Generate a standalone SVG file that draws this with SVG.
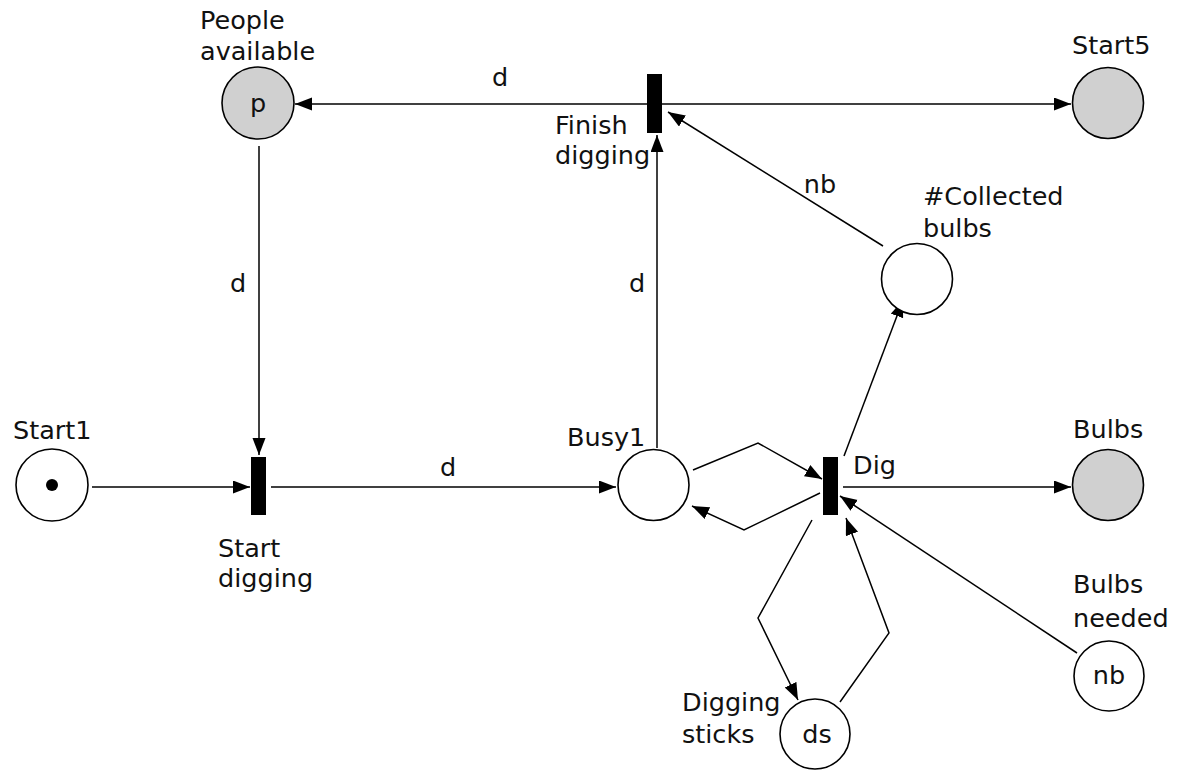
<svg xmlns="http://www.w3.org/2000/svg" width="1184" height="772" viewBox="0 0 1184 772">
<defs>
<marker id="arr" markerUnits="userSpaceOnUse" markerWidth="18" markerHeight="14" refX="17" refY="6.5" orient="auto">
<path d="M0,0 L17,6.5 L0,13 Z" fill="#000"/>
</marker>
<style>
.pl{fill:#fff;stroke:#000;stroke-width:1.6}
.pg{fill:#d0d0d0;stroke:#000;stroke-width:1.6}
.tr{fill:#000}
.t{font-family:"DejaVu Sans",Verdana,sans-serif;font-size:25.5px;fill:#111}
.c{stroke:#000;stroke-width:1.5;fill:none;marker-end:url(#arr)}
</style>
</defs>
<rect width="1184" height="772" fill="#fff"/>
<g id="connectors">
<line class="c" x1="647" y1="104" x2="295" y2="104"/>
<line class="c" x1="662" y1="104" x2="1071" y2="104"/>
<line class="c" x1="259" y1="146" x2="259" y2="455"/>
<line class="c" x1="92" y1="487" x2="250" y2="487"/>
<line class="c" x1="271" y1="487" x2="616" y2="487"/>
<line class="c" x1="657" y1="448" x2="657" y2="135"/>
<line class="c" x1="883" y1="246" x2="668" y2="112"/>
<line class="c" x1="844" y1="456" x2="903" y2="300"/>
<polyline class="c" points="693,470 758,443 822,479"/>
<polyline class="c" points="820,493 744,530 692,506"/>
<line class="c" x1="843" y1="487" x2="1071" y2="487"/>
<line class="c" x1="1077" y1="653" x2="840" y2="496"/>
<polyline class="c" points="812,520 758,618 798,700"/>
<polyline class="c" points="840,702 889,633 846,518"/>
<text class="t" x="500" y="86" text-anchor="middle">d</text>
<text class="t" x="238" y="292" text-anchor="middle">d</text>
<text class="t" x="637" y="292" text-anchor="middle">d</text>
<text class="t" x="448" y="476" text-anchor="middle">d</text>
<text class="t" x="820" y="193" text-anchor="middle">nb</text>
</g>
<g id="people">
<circle class="pg" cx="258" cy="103" r="36"/>
<text class="t" x="258" y="112" text-anchor="middle">p</text>
<text class="t" x="200" y="29">People</text>
<text class="t" x="200" y="60">available</text>
</g>
<g id="start5">
<circle class="pg" cx="1108" cy="103" r="35.5"/>
<text class="t" x="1072" y="54">Start5</text>
</g>
<g id="finish">
<rect class="tr" x="647" y="74" width="15" height="59"/>
<text class="t" x="555" y="134">Finish</text>
<text class="t" x="555" y="164">digging</text>
</g>
<g id="start1">
<circle class="pl" cx="52" cy="485" r="36"/>
<circle cx="52" cy="485" r="6" fill="#000"/>
<text class="t" x="13" y="439">Start1</text>
</g>
<g id="startdig">
<rect class="tr" x="251" y="457" width="15" height="58"/>
<text class="t" x="218" y="557">Start</text>
<text class="t" x="218" y="587">digging</text>
</g>
<g id="busy1">
<circle class="pl" cx="653.5" cy="485" r="35.5"/>
<text class="t" x="567" y="446">Busy1</text>
</g>
<g id="dig">
<rect class="tr" x="823" y="457" width="15" height="58"/>
<text class="t" x="853" y="474">Dig</text>
</g>
<g id="collected">
<circle class="pl" cx="917" cy="279" r="35.5"/>
<text class="t" x="923" y="205">#Collected</text>
<text class="t" x="923" y="237">bulbs</text>
</g>
<g id="bulbs">
<circle class="pg" cx="1108" cy="485" r="35.5"/>
<text class="t" x="1073" y="438">Bulbs</text>
</g>
<g id="needed">
<circle class="pl" cx="1109" cy="676" r="35"/>
<text class="t" x="1109" y="684" text-anchor="middle">nb</text>
<text class="t" x="1073" y="593">Bulbs</text>
<text class="t" x="1073" y="627">needed</text>
</g>
<g id="sticks">
<circle class="pl" cx="815" cy="734" r="35"/>
<text class="t" x="817" y="743" text-anchor="middle">ds</text>
<text class="t" x="682" y="711">Digging</text>
<text class="t" x="682" y="743">sticks</text>
</g>
</svg>
